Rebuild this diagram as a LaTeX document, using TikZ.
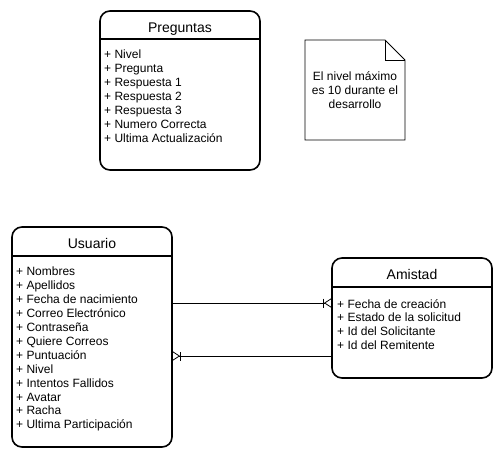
\documentclass[tikz,border=0pt]{standalone}
\usepackage{fontspec}
\setmainfont{Liberation Sans}
\usetikzlibrary{arrows.meta,positioning}

\begin{document}
\begin{tikzpicture}[
  x=1pt, y=-1pt,
  every node/.style={font=\fontsize{12}{14}\selectfont},
  entbox/.style={draw, line width=1.6pt, rounded corners=10pt, anchor=north west, outer sep=0pt, minimum width=160pt},
  enttitle/.style={minimum width=160pt, inner sep=0pt, outer sep=0pt, text height=14pt, text depth=0pt, font=\fontsize{14}{16}\selectfont},
  attrs/.style={anchor=north west, align=left, inner sep=0pt, font=\fontsize{12}{13.9}\selectfont},
  sep/.style={line width=1.6pt},
  notebox/.style={minimum width=100pt, minimum height=100pt, inner sep=0pt, outer sep=0pt},
  rel/.style={line width=0.8pt, -{Bar[width=9pt,line width=0.8pt,sep=0pt] Straight Barb[reversed,length=7pt,width=9pt,line width=0.8pt]}}
]
\useasboundingbox (0,0) rectangle (502,458);

% entidades
\node[entbox, minimum height=159pt] (preguntas) at (100,11) {};
\node[enttitle, minimum height=28pt, below=0pt of preguntas.north] (preguntasT) {Preguntas};
\draw[sep] (preguntasT.south -| preguntas.west) -- (preguntasT.south -| preguntas.east);
\node[attrs] (preguntasA) at (104,50) {+ Nivel\\+ Pregunta\\+ Respuesta 1\\+ Respuesta 2\\+ Respuesta 3\\+ Numero Correcta\\+ Ultima Actualización};

\node[entbox, minimum height=220pt] (usuario) at (12,227) {};
\node[enttitle, minimum height=29pt, below=0pt of usuario.north] (usuarioT) {Usuario};
\draw[sep] (usuarioT.south -| usuario.west) -- (usuarioT.south -| usuario.east);
\node[attrs] (usuarioA) at (16,267) {+ Nombres\\+ Apellidos\\+ Fecha de nacimiento\\+ Correo Electrónico\\+ Contraseña\\+ Quiere Correos\\+ Puntuación\\+ Nivel\\+ Intentos Fallidos\\+ Avatar\\+ Racha\\+ Ultima Participación};

\node[entbox, minimum height=120pt] (amistad) at (332,258) {};
\node[enttitle, minimum height=29pt, below=0pt of amistad.north] (amistadT) {Amistad};
\draw[sep] (amistadT.south -| amistad.west) -- (amistadT.south -| amistad.east);
\node[attrs] (amistadA) at (337,299) {+ Fecha de creación\\+ Estado de la solicitud\\+ Id del Solicitante\\+ Id del Remitente};

% nota
\node[notebox] (nota) at (355,90) {};
\draw[line width=0.9pt] (nota.north west) -- ([xshift=-20pt]nota.north east) -- ([yshift=-20pt]nota.north east) -- (nota.south east) -- (nota.south west) -- cycle;
\draw[line width=0.9pt] ([xshift=-20pt]nota.north east) -- ([xshift=-20pt,yshift=-20pt]nota.north east) -- ([yshift=-20pt]nota.north east);
\node[align=center, inner sep=0pt] (notaT) at (nota.center) {El nivel máximo\\es 10 durante el\\desarrollo};

% relaciones
\draw[rel] ([yshift=34pt]usuario.east) -- ([yshift=34pt]usuario.east -| amistad.west);
\draw[rel] ([yshift=-38pt]amistad.west) -- ([yshift=-38pt]amistad.west -| usuario.east);
\end{tikzpicture}
\end{document}
